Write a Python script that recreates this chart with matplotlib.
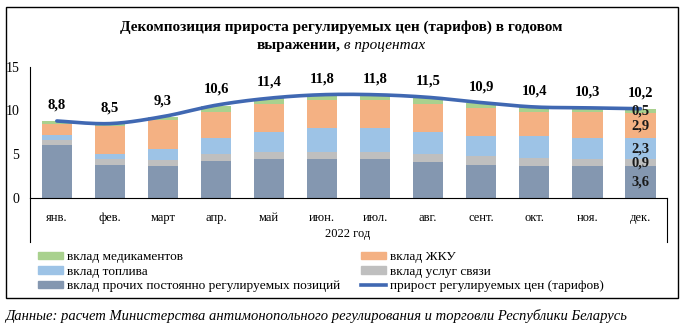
import matplotlib
matplotlib.use("Agg")
import matplotlib.pyplot as plt
import numpy as np
from matplotlib.lines import Line2D
from matplotlib.patches import Rectangle, Patch

plt.rcParams['font.family'] = ['Liberation Serif', 'DejaVu Serif']

months = ["янв.", "фев.", "март", "апр.", "май", "июн.", "июл.", "авг.", "сент.", "окт.", "ноя.", "дек."]
other = [6.0, 3.8, 3.6, 4.25, 4.4, 4.4, 4.4, 4.15, 3.8, 3.7, 3.6, 3.6]
comm = [0.65, 0.7, 0.7, 0.75, 0.9, 0.9, 0.9, 0.9, 0.95, 0.9, 0.9, 0.9]
fuel = [0.6, 0.55, 1.35, 1.8, 2.2, 2.65, 2.65, 2.5, 2.35, 2.45, 2.4, 2.3]
housing = [1.15, 3.2, 3.25, 3.05, 3.2, 3.2, 3.2, 3.2, 3.2, 2.8, 2.9, 2.9]
meds = [0.4, 0.2, 0.4, 0.7, 0.7, 0.65, 0.65, 0.7, 0.6, 0.55, 0.5, 0.5]
total = [8.8, 8.5, 9.3, 10.6, 11.4, 11.8, 11.8, 11.5, 10.9, 10.4, 10.3, 10.2]
dec_labels = ["3,6", "0,9", "2,3", "2,9", "0,5"]

c_other = "#8497b0"
c_comm = "#bfbfbf"
c_fuel = "#9dc3e6"
c_house = "#f4b183"
c_meds = "#a9d18e"
c_line = "#4068b2"

W, H = 682, 332
fig = plt.figure(figsize=(W / 100, H / 100), dpi=100)

def fx(px):
    return px / W

def fy(py):
    return 1 - py / H

ax = fig.add_axes([fx(30.3), fy(198), fx(667) - fx(30.3), fy(66.7) - fy(198)])
x = np.arange(len(months))
bw = 0.57
series = [(other, c_other), (comm, c_comm), (fuel, c_fuel), (housing, c_house), (meds, c_meds)]
bottom = np.zeros(len(months))
segs = []
for vals, col in series:
    v = np.array(vals)
    ax.bar(x, v, bw, bottom=bottom, color=col, zorder=2)
    segs.append((bottom.copy(), v))
    bottom = bottom + v

# smoothed line (Excel-style bezier smoothing through the points)
pts = np.column_stack([x, np.array(total)])
curve = []
n = len(pts)
for i in range(n - 1):
    p0 = pts[max(i - 1, 0)]
    p1 = pts[i]
    p2 = pts[i + 1]
    p3 = pts[min(i + 2, n - 1)]
    c1 = p1 + (p2 - p0) / 6
    c2 = p2 - (p3 - p1) / 6
    t = np.linspace(0, 1, 30)[:, None]
    seg = (1 - t) ** 3 * p1 + 3 * (1 - t) ** 2 * t * c1 + 3 * (1 - t) * t ** 2 * c2 + t ** 3 * p2
    curve.append(seg if i == 0 else seg[1:])
curve = np.vstack(curve)
ax.plot(curve[:, 0], curve[:, 1], color=c_line, lw=2.6, zorder=4, solid_capstyle='round')

for xi, tv in zip(x, total):
    ax.annotate(f"{tv:.1f}".replace(".", ","), (xi, tv), xytext=(0, 11.5), textcoords="offset points",
                ha="center", va="center", fontsize=10.5, fontweight="bold", color="black", zorder=5)

for (b, v), lab in zip(segs, dec_labels):
    ax.text(x[-1], b[-1] + v[-1] / 2, lab, ha="center", va="center", fontsize=10.5,
            fontweight="bold", color="#1a1a1a", zorder=5)

ax.set_xlim(-0.5, len(months) - 0.5)
ax.set_ylim(0, 15)
ax.set_yticks([0, 5, 10, 15])
ax.set_yticklabels(["0", "5", "10", "15"])
ax.set_xticks(x)
ax.set_xticklabels(months)
ax.tick_params(axis="both", length=0, colors="black")
ax.tick_params(axis="y", pad=8, labelsize=10)
ax.tick_params(axis="x", pad=10, labelsize=9)
for s in ["top", "right"]:
    ax.spines[s].set_visible(False)
ax.spines["left"].set_color("black")
ax.spines["bottom"].set_color("black")
ax.spines["left"].set_linewidth(0.8)
ax.spines["bottom"].set_linewidth(0.8)

# multi-level category lines
fig.add_artist(Line2D([fx(30.3), fx(30.3)], [fy(198), fy(242)], color="black", lw=0.8))
fig.add_artist(Line2D([fx(667), fx(667)], [fy(198), fy(242)], color="black", lw=0.8))
fig.text(fx(348), fy(234), "2022 год", ha="center", va="center", fontsize=9)

# outer frame
fig.add_artist(Rectangle((fx(6), fy(298)), fx(678) - fx(6), fy(7) - fy(298), fill=False,
                         edgecolor="black", lw=1.0, transform=fig.transFigure))

# title
fig.text(0.5, fy(27), "Декомпозиция прироста регулируемых цен (тарифов) в годовом",
         ha="center", va="center", fontsize=11, fontweight="bold")
t1 = fig.text(0, fy(45), "выражении,", ha="left", va="center", fontsize=11, fontweight="bold")
t2 = fig.text(0, fy(45), " в процентах", ha="left", va="center", fontsize=11, style="italic")
fig.canvas.draw()
r = fig.canvas.get_renderer()
w1 = t1.get_window_extent(r).width
w2 = t2.get_window_extent(r).width
start = (W * 0.5 - (w1 + w2) / 2)
t1.set_x(start / W)
t2.set_x((start + w1) / W)

# legend (column-major order so rows read: meds/ЖКУ, fuel/comm, other/line)
handles = [Patch(color=c_meds), Patch(color=c_fuel), Patch(color=c_other),
           Patch(color=c_house), Patch(color=c_comm), Line2D([], [], color=c_line, lw=2.6)]
labels = ["вклад медикаментов", "вклад топлива", "вклад прочих постоянно регулируемых позиций",
          "вклад ЖКУ", "вклад услуг связи", "прирост регулируемых цен (тарифов)"]
leg = fig.legend(handles, labels, ncol=2, loc="upper left", bbox_to_anchor=(fx(38), fy(251)),
                 frameon=False, fontsize=9.6, handlelength=1.9, handleheight=0.45,
                 handletextpad=0.25, columnspacing=1.6, labelspacing=0.2, borderaxespad=0,
                 borderpad=0)

fig.text(fx(5), fy(316), "Данные: расчет Министерства антимонопольного регулирования и торговли Республики Беларусь",
         ha="left", va="center", fontsize=10.5, style="italic")

fig.savefig("out.png", dpi=100)
